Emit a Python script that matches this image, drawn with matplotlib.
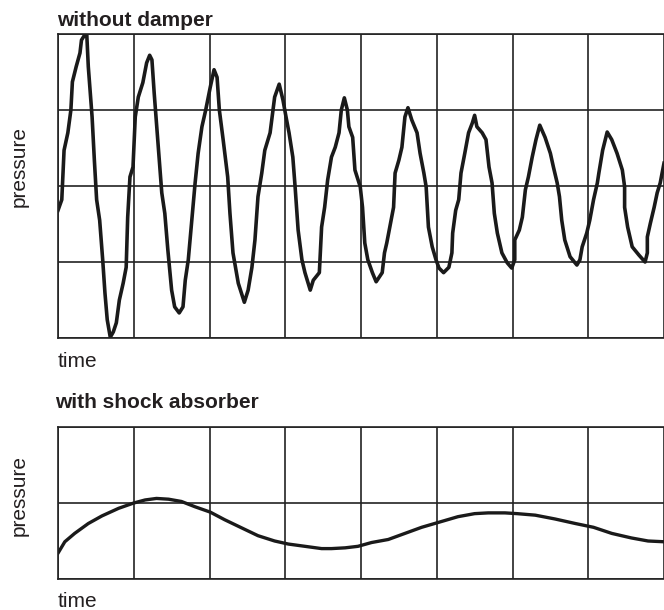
import matplotlib
matplotlib.use("Agg")
import matplotlib.pyplot as plt

plt.rcParams['font.family'] = ['Liberation Sans', 'DejaVu Sans']

# pressure trace without damper (grid units: x 0-8, y 0-4)
t_free = [0.00, 0.05, 0.08, 0.13, 0.17, 0.19, 0.24, 0.29, 0.31, 0.36, 0.38, 0.40, 0.45, 0.48,
          0.51, 0.55, 0.59, 0.62, 0.65, 0.69, 0.73, 0.77, 0.81, 0.86, 0.90, 0.92, 0.95, 0.99,
          1.02, 1.06, 1.12, 1.17, 1.21, 1.24, 1.27, 1.32, 1.37, 1.41, 1.45, 1.50, 1.54, 1.60,
          1.65, 1.68, 1.72, 1.77, 1.81, 1.85, 1.90, 1.95, 2.01, 2.06, 2.10, 2.13, 2.18, 2.24,
          2.27, 2.31, 2.38, 2.46, 2.51, 2.56, 2.60, 2.64, 2.69, 2.73, 2.80, 2.86, 2.92, 2.97,
          3.01, 3.05, 3.10, 3.13, 3.17, 3.22, 3.26, 3.33, 3.37, 3.45, 3.48, 3.52, 3.56, 3.61,
          3.66, 3.71, 3.74, 3.78, 3.82, 3.84, 3.89, 3.92, 3.99, 4.02, 4.05, 4.09, 4.15, 4.20,
          4.28, 4.31, 4.34, 4.38, 4.43, 4.45, 4.50, 4.54, 4.58, 4.62, 4.67, 4.74, 4.78, 4.83,
          4.86, 4.89, 4.94, 4.99, 5.03, 5.09, 5.16, 5.20, 5.21, 5.25, 5.29, 5.32, 5.37, 5.42,
          5.47, 5.50, 5.53, 5.60, 5.65, 5.69, 5.73, 5.76, 5.80, 5.86, 5.93, 5.99, 6.03, 6.03,
          6.09, 6.13, 6.17, 6.21, 6.26, 6.31, 6.36, 6.43, 6.50, 6.54, 6.59, 6.62, 6.65, 6.69,
          6.76, 6.85, 6.89, 6.92, 6.98, 7.02, 7.07, 7.12, 7.14, 7.19, 7.25, 7.31, 7.38, 7.45,
          7.48, 7.48, 7.52, 7.58, 7.67, 7.75, 7.78, 7.78, 7.82, 7.87, 7.91, 7.95, 8.00]
p_free = [1.68, 1.82, 2.47, 2.70, 3.00, 3.37, 3.57, 3.75, 3.92, 4.00, 3.99, 3.57, 2.91, 2.34,
          1.82, 1.55, 1.03, 0.59, 0.24, 0.01, 0.08, 0.20, 0.50, 0.72, 0.93, 1.59, 2.12, 2.25,
          2.91, 3.17, 3.36, 3.62, 3.72, 3.66, 3.22, 2.57, 1.91, 1.64, 1.16, 0.63, 0.41, 0.33,
          0.41, 0.76, 1.03, 1.59, 2.04, 2.43, 2.78, 3.00, 3.30, 3.53, 3.43, 3.00, 2.61, 2.12,
          1.64, 1.12, 0.72, 0.47, 0.63, 0.93, 1.29, 1.86, 2.17, 2.47, 2.70, 3.17, 3.34, 3.13,
          2.91, 2.70, 2.38, 1.99, 1.42, 1.03, 0.86, 0.63, 0.76, 0.86, 1.46, 1.72, 2.08, 2.38,
          2.51, 2.70, 3.00, 3.16, 3.00, 2.78, 2.64, 2.21, 1.99, 1.72, 1.25, 1.03, 0.86, 0.74,
          0.86, 1.12, 1.25, 1.46, 1.72, 2.17, 2.34, 2.51, 2.91, 3.03, 2.87, 2.70, 2.43, 2.17,
          1.99, 1.46, 1.20, 1.03, 0.92, 0.86, 0.93, 1.12, 1.38, 1.68, 1.82, 2.17, 2.43, 2.70,
          2.83, 2.93, 2.78, 2.70, 2.61, 2.25, 2.04, 1.64, 1.38, 1.12, 0.99, 0.92, 1.03, 1.29,
          1.42, 1.59, 1.95, 2.12, 2.38, 2.61, 2.80, 2.64, 2.43, 2.25, 2.04, 1.86, 1.55, 1.29,
          1.07, 0.96, 1.03, 1.20, 1.38, 1.55, 1.82, 2.04, 2.17, 2.47, 2.71, 2.61, 2.43, 2.21,
          1.99, 1.72, 1.46, 1.20, 1.09, 1.00, 1.12, 1.33, 1.51, 1.72, 1.91, 2.04, 2.30]

# pressure trace with shock absorber (grid units: x 0-8, y 0-2)
t_damped = [0.00, 0.09, 0.22, 0.40, 0.58, 0.80, 1.00, 1.15, 1.30, 1.46, 1.63, 1.81, 2.01,
            2.20, 2.43, 2.64, 2.86, 3.04, 3.26, 3.48, 3.61, 3.79, 3.96, 4.14, 4.36, 4.58,
            4.80, 5.04, 5.28, 5.50, 5.68, 5.90, 6.06, 6.30, 6.56, 6.83, 7.07, 7.31, 7.57,
            7.79, 8.00]
p_damped = [0.34, 0.49, 0.60, 0.73, 0.83, 0.93, 1.00, 1.04, 1.06, 1.05, 1.02, 0.95, 0.88,
            0.78, 0.67, 0.57, 0.50, 0.46, 0.43, 0.40, 0.40, 0.41, 0.43, 0.48, 0.52, 0.60,
            0.68, 0.75, 0.82, 0.86, 0.87, 0.87, 0.86, 0.84, 0.79, 0.73, 0.68, 0.60, 0.54,
            0.50, 0.49]

W, H = 664, 610
fig = plt.figure(figsize=(W / 100, H / 100), dpi=100)


def make_axes(top, bottom, nrows):
    ax = fig.add_axes([58 / W, 1 - bottom / H, 1 - 58 / W, (bottom - top) / H])
    ax.set_xlim(0, 8)
    ax.set_ylim(0, nrows)
    ax.set_xticks(range(9))
    ax.set_yticks(range(nrows + 1))
    ax.tick_params(length=0, labelbottom=False, labelleft=False)
    ax.grid(True, color='#222222', linewidth=1.2)
    for s in ['left', 'top', 'bottom']:
        ax.spines[s].set_color('#222222')
        ax.spines[s].set_linewidth(1.2)
    ax.spines['right'].set_visible(False)
    return ax


ax1 = make_axes(34, 338, 4)
ax1.plot(t_free, p_free, color='#1a1a1a', linewidth=2.6, solid_joinstyle='round')

ax2 = make_axes(427, 579, 2)
ax2.plot(t_damped, p_damped, color='#1a1a1a', linewidth=2.4, solid_joinstyle='round')


def label(x, y, s, **kw):
    fig.text(x / W, 1 - y / H, s, color='#231f20', **kw)


label(57, 26, 'without damper', fontsize=15, fontweight='bold', va='baseline')
label(19, 167, 'pressure', fontsize=15, rotation=90, ha='center', va='center')
label(58, 367, 'time', fontsize=15, va='baseline')
label(55, 408, 'with shock absorber', fontsize=15, fontweight='bold', va='baseline')
label(19, 496, 'pressure', fontsize=15, rotation=90, ha='center', va='center')
label(58, 607, 'time', fontsize=15, va='baseline')

fig.savefig('out.png', dpi=100)
